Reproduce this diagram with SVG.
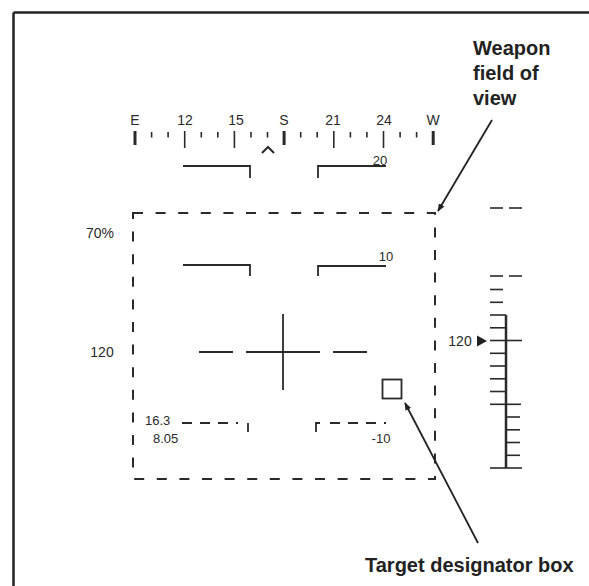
<svg xmlns="http://www.w3.org/2000/svg" width="589" height="586" viewBox="0 0 589 586">
<style>
.ln{stroke:#2a2a2a;stroke-width:1.8;fill:none}
.dash{stroke:#2a2a2a;stroke-width:2;fill:none;stroke-dasharray:10 12.6}
.sdash{stroke:#2a2a2a;stroke-width:1.8;fill:none;stroke-dasharray:10 8}
.t{font-family:"Liberation Sans",Arial,sans-serif;font-size:13px;fill:#2a2a2a}
.tc{font-family:"Liberation Sans",Arial,sans-serif;font-size:14px;fill:#2a2a2a;text-anchor:middle}
.lbl{font-family:"Liberation Sans",Arial,sans-serif;font-size:20px;font-weight:bold;fill:#222}
.tk{stroke:#2a2a2a;stroke-width:1.6}
.tkb{stroke:#2a2a2a;stroke-width:3}
</style>
<defs>
<marker id="ah" viewBox="0 0 10 10" refX="9" refY="5" markerWidth="8" markerHeight="8" orient="auto" markerUnits="userSpaceOnUse">
<path d="M0,1 L10,5 L0,9 z" fill="#222"/>
</marker>
</defs>
<rect width="589" height="586" fill="#fff"/>
<g id="frame">
<line x1="13.5" y1="12.5" x2="589" y2="12.5" stroke="#222" stroke-width="2.5"/>
<line x1="13.5" y1="12.5" x2="13.5" y2="586" stroke="#222" stroke-width="2.5"/>
</g>
<g id="compass">
<g class="tc">
<text x="135" y="125">E</text>
<text x="185" y="125">12</text>
<text x="236" y="125">15</text>
<text x="284" y="125">S</text>
<text x="333" y="125">21</text>
<text x="384" y="125">24</text>
<text x="433" y="125">W</text>
</g>
<g class="tkb">
<line x1="135" y1="131" x2="135" y2="145"/>
<line x1="284.1" y1="131" x2="284.1" y2="145"/>
<line x1="433.2" y1="131" x2="433.2" y2="145"/>
</g>
<g class="tk">
<line x1="184.7" y1="131" x2="184.7" y2="148"/>
<line x1="234.4" y1="131" x2="234.4" y2="148"/>
<line x1="333.8" y1="131" x2="333.8" y2="148"/>
<line x1="383.5" y1="131" x2="383.5" y2="148"/>
<line x1="151.6" y1="132" x2="151.6" y2="137.5"/>
<line x1="168.1" y1="132" x2="168.1" y2="137.5"/>
<line x1="201.3" y1="132" x2="201.3" y2="137.5"/>
<line x1="217.8" y1="132" x2="217.8" y2="137.5"/>
<line x1="251" y1="132" x2="251" y2="137.5"/>
<line x1="267.5" y1="132" x2="267.5" y2="137.5"/>
<line x1="300.7" y1="132" x2="300.7" y2="137.5"/>
<line x1="317.2" y1="132" x2="317.2" y2="137.5"/>
<line x1="350.4" y1="132" x2="350.4" y2="137.5"/>
<line x1="366.9" y1="132" x2="366.9" y2="137.5"/>
<line x1="400.1" y1="132" x2="400.1" y2="137.5"/>
<line x1="416.6" y1="132" x2="416.6" y2="137.5"/>
</g>
<polyline points="262,153 268,147 274,153" fill="none" stroke="#2a2a2a" stroke-width="2"/>
</g>
<g id="ladder-20">
<polyline class="ln" points="183,166 250,166 250,178"/>
<polyline class="ln" points="318,178 318,166 386,166"/>
<text class="t" x="380" y="165" text-anchor="middle">20</text>
</g>
<g id="weapon-fov">
<rect class="dash" x="133" y="213" width="302" height="266"/>
</g>
<g id="ladder-10">
<polyline class="ln" points="183,265 250,265 250,276"/>
<polyline class="ln" points="318,276 318,266 386,266"/>
<text class="t" x="386" y="261" text-anchor="middle">10</text>
</g>
<g id="left-readouts">
<text class="tc" x="100" y="238">70%</text>
<text class="tc" x="102" y="357">120</text>
</g>
<g id="reticle">
<line class="ln" x1="199" y1="352" x2="233" y2="352"/>
<line class="ln" x1="246" y1="352" x2="320" y2="352"/>
<line class="ln" x1="333" y1="352" x2="367" y2="352"/>
<line class="ln" x1="283" y1="314" x2="283" y2="390"/>
</g>
<g id="ladder-minus10">
<line class="sdash" x1="182" y1="423" x2="238" y2="423"/>
<line class="ln" x1="248" y1="423" x2="248" y2="432"/>
<polyline class="ln" points="316,432 316,423 320,423"/>
<line class="sdash" x1="330" y1="423" x2="386" y2="423"/>
<text class="t" x="381" y="443" text-anchor="middle">-10</text>
</g>
<g id="bottom-readouts">
<text class="t" x="145" y="425">16.3</text>
<text class="t" x="153" y="443">8.05</text>
</g>
<g id="target-box">
<rect x="382.5" y="379.5" width="19" height="19" fill="none" stroke="#2a2a2a" stroke-width="1.8"/>
</g>
<g id="altitude-scale">
<g class="tk">
<line x1="490" y1="208" x2="503" y2="208"/>
<line x1="509" y1="208" x2="522" y2="208"/>
<line x1="490" y1="276" x2="503" y2="276"/>
<line x1="509" y1="276" x2="522" y2="276"/>
<line x1="490" y1="289.5" x2="503" y2="289.5"/>
<line x1="490" y1="302.3" x2="503" y2="302.3"/>
<line x1="506" y1="315" x2="506" y2="468" stroke-width="2.5"/>
<line x1="490" y1="315" x2="506" y2="315"/>
<line x1="490" y1="327.8" x2="506" y2="327.8"/>
<line x1="490" y1="340.5" x2="522" y2="340.5"/>
<line x1="490" y1="353.3" x2="506" y2="353.3"/>
<line x1="490" y1="366" x2="506" y2="366"/>
<line x1="490" y1="378.8" x2="506" y2="378.8"/>
<line x1="490" y1="391.5" x2="506" y2="391.5"/>
<line x1="490" y1="404.3" x2="521" y2="404.3"/>
<line x1="506" y1="417" x2="520" y2="417"/>
<line x1="506" y1="429.8" x2="520" y2="429.8"/>
<line x1="506" y1="442.5" x2="520" y2="442.5"/>
<line x1="506" y1="455.3" x2="520" y2="455.3"/>
<line x1="490" y1="468" x2="522" y2="468"/>
</g>
<polygon points="477,335.5 487,341 477,346.5" fill="#222"/>
<text class="tc" x="460" y="346">120</text>
</g>
<g id="label-weapon">
<text class="lbl" x="473" y="55">Weapon</text>
<text class="lbl" x="473" y="80">field of</text>
<text class="lbl" x="473" y="105">view</text>
</g>
<g id="label-target">
<text class="lbl" x="365" y="572">Target designator box</text>
</g>
<g id="connectors">
<line x1="492" y1="120" x2="438" y2="211" stroke="#222" stroke-width="1.8" marker-end="url(#ah)"/>
<line x1="478" y1="543" x2="405" y2="403" stroke="#222" stroke-width="1.8" marker-end="url(#ah)"/>
</g>
</svg>
